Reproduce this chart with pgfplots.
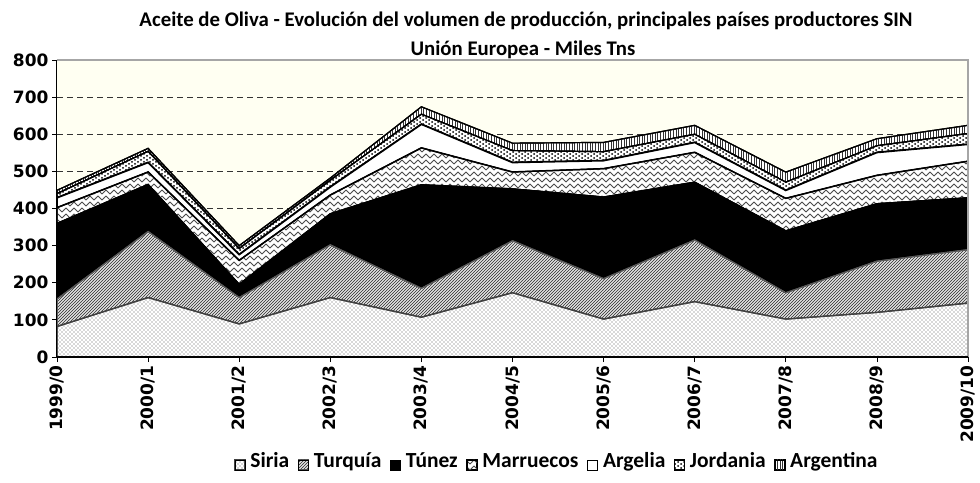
\documentclass[border=0pt]{standalone}
\usepackage{pgfplots}
\pgfplotsset{compat=1.18}
\usepackage{pgfplotstable}
\usepackage{fontspec}
\setmainfont{Carlito}
\newfontfamily\dejavu{DejaVu Sans}
\usetikzlibrary{patterns}

\definecolor{bgyel}{RGB}{255,255,242}

% Siria: small grey staggered dots
\pgfdeclarepatternformonly{sdots}{\pgfqpoint{-1pt}{-1pt}}{\pgfqpoint{5pt}{5pt}}{\pgfqpoint{4pt}{4pt}}{
  \pgfpathcircle{\pgfqpoint{0pt}{0pt}}{0.65pt}
  \pgfpathcircle{\pgfqpoint{2pt}{2pt}}{0.65pt}
  \pgfusepath{fill}}
% Turquia: dense diagonal lines
\pgfdeclarepatternformonly{tlines}{\pgfqpoint{-1pt}{-1pt}}{\pgfqpoint{4pt}{4pt}}{\pgfqpoint{3pt}{3pt}}{
  \pgfsetlinewidth{0.9pt}
  \pgfpathmoveto{\pgfqpoint{0pt}{0pt}}
  \pgfpathlineto{\pgfqpoint{3.1pt}{3.1pt}}
  \pgfusepath{stroke}}
% Marruecos: waves
\pgfdeclarepatternformonly{wavy}{\pgfqpoint{-1pt}{-1pt}}{\pgfqpoint{9pt}{5pt}}{\pgfqpoint{8pt}{6pt}}{
  \pgfsetlinewidth{0.9pt}
  \pgfpathmoveto{\pgfqpoint{0pt}{2pt}}
  \pgfpathcurveto{\pgfqpoint{1.3pt}{4.5pt}}{\pgfqpoint{2.7pt}{4.5pt}}{\pgfqpoint{4pt}{2pt}}
  \pgfpathcurveto{\pgfqpoint{5.3pt}{-0.5pt}}{\pgfqpoint{6.7pt}{-0.5pt}}{\pgfqpoint{8pt}{2pt}}
  \pgfusepath{stroke}}
% Jordania: big black dots
\pgfdeclarepatternformonly{bdots}{\pgfqpoint{-1pt}{-1pt}}{\pgfqpoint{7pt}{5pt}}{\pgfqpoint{6pt}{4pt}}{
  \pgfpathcircle{\pgfqpoint{0pt}{0pt}}{1pt}
  \pgfpathcircle{\pgfqpoint{3pt}{2pt}}{1pt}
  \pgfusepath{fill}}
% Argentina: vertical lines
\pgfdeclarepatternformonly{vlines}{\pgfqpoint{-1pt}{-1pt}}{\pgfqpoint{3pt}{3pt}}{\pgfqpoint{2.6pt}{2.6pt}}{
  \pgfsetlinewidth{1pt}
  \pgfpathmoveto{\pgfqpoint{0pt}{-0.1pt}}
  \pgfpathlineto{\pgfqpoint{0pt}{2.7pt}}
  \pgfusepath{stroke}}

\pgfplotstableread{
x S T Tu M A J Ar
0 82 74 204 42 27 11 9
1 160 178 127 33 26 30 8
2 89 71 36 64 16 16 8
3 160 142 84 50 22 18 6
4 107 78 279 99 64 27 20
5 173 140 140 45 26 32 20
6 102 109 220 76 22 24 25
7 149 166 156 80 27 22 24
8 102 71 167 87 22 22 27
9 120 138 155 76 62 18 19
10 145 144 140 98 46 29 22
}\data

\begin{document}
\begin{tikzpicture}
\path[use as bounding box] (0pt,0pt) rectangle (980pt,482pt);
\node[font=\bfseries\fontsize{20.8}{20.8}\selectfont] at (526pt,461pt) {Aceite de Oliva - Evolución del volumen de producción, principales países productores SIN};
\node[font=\bfseries\fontsize{20.8}{20.8}\selectfont] at (523pt,432pt) {Unión Europea - Miles Tns};
\begin{axis}[
  at={(57pt,125pt)}, anchor=south west,
  scale only axis, width=911pt, height=297pt,
  xmin=0, xmax=10, ymin=0, ymax=800,
  stack plots=y,
  every axis plot/.append style={mark=none},
  xtick={0,...,10},
  xticklabels={1999/0,2000/1,2001/2,2002/3,2003/4,2004/5,2005/6,2006/7,2007/8,2008/9,2009/10},
  x tick label style={rotate=90, anchor=east, font=\dejavu\bfseries\fontsize{17}{17}\selectfont},
  ytick={0,100,...,800},
  y tick label style={font=\dejavu\bfseries\fontsize{17}{17}\selectfont},
  /pgf/number format/assume math mode=true,
  tick align=outside, major tick length=5pt,
  tick style={black, line width=0.8pt},
  xtick pos=bottom, ytick pos=left,
  ymajorgrids,
  grid style={black!80, dash pattern=on 6pt off 4pt, line width=0.7pt},
  axis line style={draw=none},
  axis background/.style={fill=bgyel},
  legend columns=7,
  legend style={at={(0.549,-0.3636)}, anchor=center, draw=none, fill=none,
    font=\bfseries\fontsize{21.5}{21.5}\selectfont,
    nodes={text height=1.5ex, text depth=0.3ex},
    /tikz/every even column/.append style={column sep=7pt},
    /tikz/every odd column/.append style={column sep=3pt}},
  legend image code/.code={\draw[#1, line width=0.6pt, draw=black] (0pt,-5pt) rectangle (10pt,5pt);},
  after end axis/.code={
    \draw[gray!70, line width=1.2pt] (rel axis cs:0,1) -- (rel axis cs:1,1) -- (rel axis cs:1,0);
    \draw[black, line width=1pt] (rel axis cs:0,1) -- (rel axis cs:0,0);
    \draw[black, line width=1.8pt] (rel axis cs:0,0) -- (rel axis cs:1,0);
  },
]
\addplot[draw=black!75, line width=1.2pt, preaction={fill=white}, pattern=sdots, pattern color=black!65] table[x=x,y=S]{\data} \closedcycle;
\addlegendentry{Siria}
\addplot[draw=black!65, line width=1.2pt, preaction={fill=white}, pattern=tlines, pattern color=black!70] table[x=x,y=T]{\data} \closedcycle;
\addlegendentry{Turquía}
\addplot[draw=black, line width=1pt, fill=black] table[x=x,y=Tu]{\data} \closedcycle;
\addlegendentry{Túnez}
\addplot[draw=black, line width=1.2pt, preaction={fill=white}, pattern=wavy, pattern color=black!70] table[x=x,y=M]{\data} \closedcycle;
\addlegendentry{Marruecos}
\addplot[draw=black, line width=1.8pt, fill=white] table[x=x,y=A]{\data} \closedcycle;
\addlegendentry{Argelia}
\addplot[draw=black, line width=1.2pt, preaction={fill=white}, pattern=bdots, pattern color=black] table[x=x,y=J]{\data} \closedcycle;
\addlegendentry{Jordania}
\addplot[draw=black, line width=1.2pt, preaction={fill=white}, pattern=vlines, pattern color=black!80] table[x=x,y=Ar]{\data} \closedcycle;
\addlegendentry{Argentina}
\end{axis}
\end{tikzpicture}
\end{document}
